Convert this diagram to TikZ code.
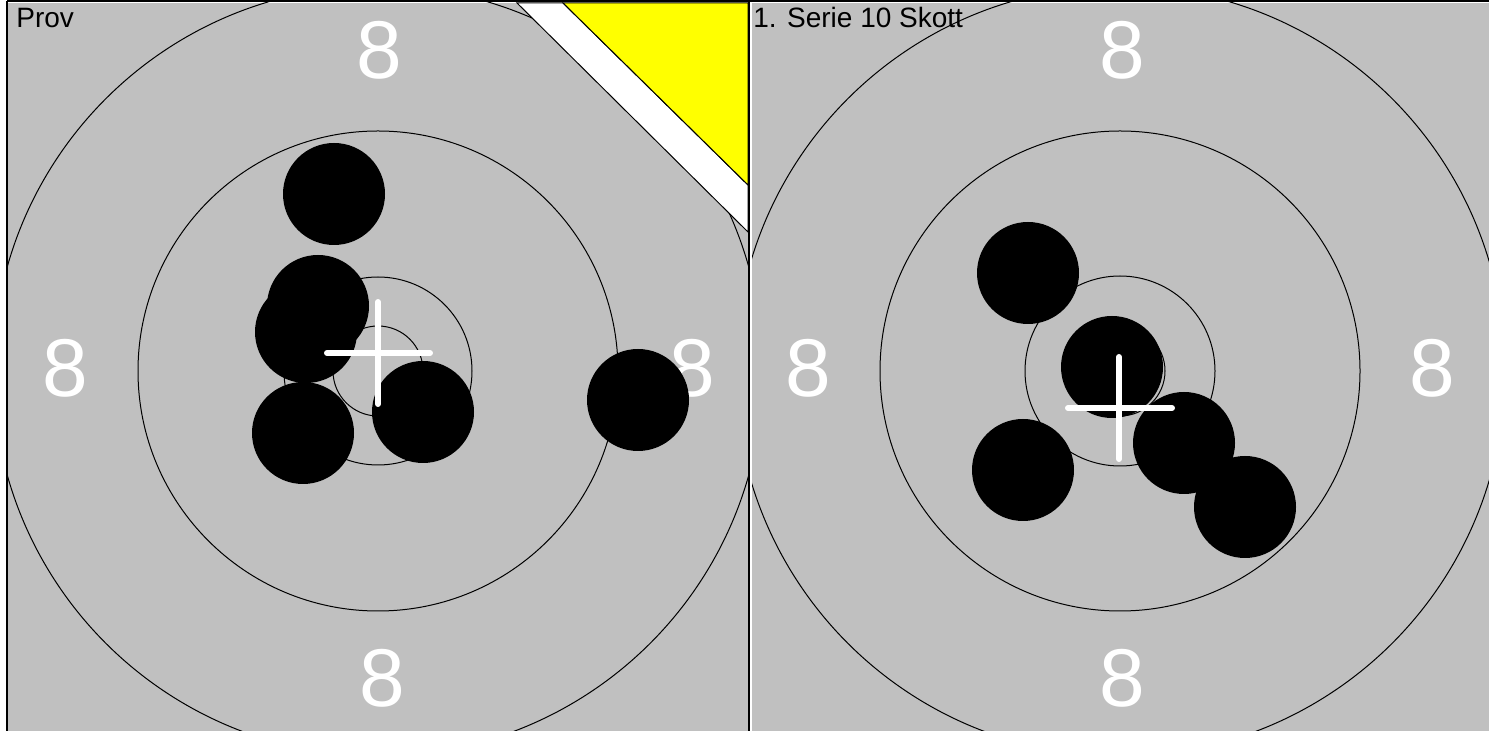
\documentclass[tikz,border=0pt]{standalone}
\usepackage{fontspec}
\setmainfont{Liberation Sans}
\usetikzlibrary{positioning}
\definecolor{TargetGrey}{RGB}{192, 192, 192}
\definecolor{MarkYellow}{RGB}{255, 255, 0}

\begin{document}
\begin{tikzpicture}[x=0.5pt, y=-0.5pt,
    ring/.style={draw=black, line width=0.5pt},
    shot/.style={fill=black},
    aimcross/.style={white, line width=3pt, line cap=round},
    ringnum/.style={white, font=\fontsize{41}{41}\selectfont, anchor=base, inner sep=0pt},
    paneltitle/.style={black, font=\fontsize{14}{14}\selectfont, anchor=base west, inner sep=0pt}]
    \useasboundingbox (0,0) rectangle (1489,731);
    \fill[white] (0,0) rectangle (1489,731);

    % Left panel: Prov
    \begin{scope}
      \clip (8,3) rectangle (748,731);
      \fill[TargetGrey] (8,3) rectangle (748,731);
      \foreach \r in {45,94,240,385} {
        \draw[ring] (378,371) circle[radius=\r];
      }
      % Ring numbers
      \node[ringnum] (lnumtop) at (379,79) {8};
      \node[ringnum] (lnumleft) at (65,397) {8};
      \node[ringnum] (lnumright) at (692,397) {8};
      \node[ringnum] (lnumbottom) at (382,706) {8};
      % Corner mark
      \fill[white, draw=black, line width=0.5pt] (517,3) -- (563,3) -- (748,185) -- (748,232) -- cycle;
      \fill[MarkYellow, draw=black, line width=0.5pt] (563,3) -- (748,3) -- (748,185) -- cycle;
      % Shots
      \foreach \x/\y in {334/194, 318/306, 306/332, 303/433, 423/412, 638/400} {
        \fill[shot] (\x,\y) circle[radius=51];
      }
      % Aim cross
      \draw[aimcross] (327,353) -- (430,353);
      \draw[aimcross] (378,302) -- (378,404);
      \node[paneltitle] (provtitle) at (16,28) {Prov};
    \end{scope}

    % Right panel: 1. Serie
    \begin{scope}
      \clip (751,3) rectangle (1489,731);
      \fill[TargetGrey] (751,3) rectangle (1489,731);
      \foreach \r in {45,95,240,385} {
        \draw[ring] (1120,371) circle[radius=\r];
      }
      % Ring numbers
      \node[ringnum] (rnumtop) at (1122,79) {8};
      \node[ringnum] (rnumleft) at (808,397) {8};
      \node[ringnum] (rnumright) at (1432,397) {8};
      \node[ringnum] (rnumbottom) at (1122,706) {8};
      % Shots
      \foreach \x/\y in {1028/273, 1112/367, 1023/470, 1184/443, 1245/507} {
        \fill[shot] (\x,\y) circle[radius=51];
      }
      % Aim cross
      \draw[aimcross] (1068,408) -- (1172,408);
      \draw[aimcross] (1119,357) -- (1119,459);
      \node[paneltitle] (serietitle) at (753,28) {1. Serie 10 Skott};
    \end{scope}

    % Frame lines
    \draw[black, line width=1pt] (7,1) -- (1489,1);
    \draw[black, line width=1pt] (7,1) -- (7,731);
    \draw[black, line width=1pt] (749,1) -- (749,731);
    \draw[white, line width=0.5pt] (751,3) -- (751,731);
  \end{tikzpicture}
\end{document}
